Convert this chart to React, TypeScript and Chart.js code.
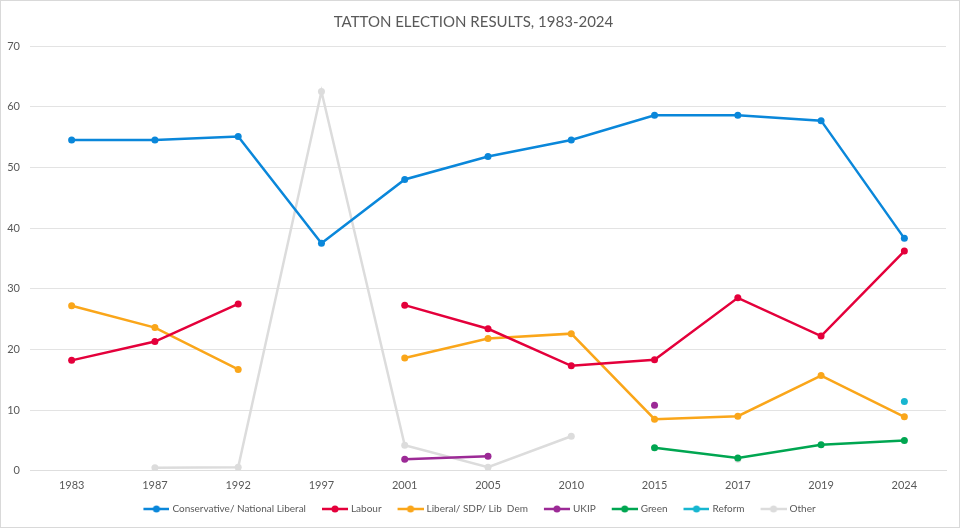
import { useEffect, useRef } from 'react'
import { Chart, ChartConfiguration, registerables } from 'chart.js'

Chart.register(...registerables)

const years = ['1983', '1987', '1992', '1997', '2001', '2005', '2010', '2015', '2017', '2019', '2024']

const conservative = [54.5, 54.5, 55.1, 37.5, 48.0, 51.8, 54.5, 58.6, 58.6, 57.7, 38.3]
const labour = [18.2, 21.3, 27.5, null, 27.3, 23.4, 17.3, 18.3, 28.5, 22.2, 36.2]
const libDem = [27.2, 23.6, 16.7, null, 18.6, 21.8, 22.6, 8.5, 9.0, 15.7, 8.9]
const ukip = [null, null, null, null, 1.9, 2.4, null, 10.8, null, null, null]
const green = [null, null, null, null, null, null, null, 3.8, 2.1, 4.3, 5.0]
const reform = [null, null, null, null, null, null, null, null, null, null, 11.4]
const other = [null, 0.5, 0.6, 62.5, 4.2, 0.6, 5.7, null, 1.9, null, null]

const seriesNames = [
  'Conservative/ National Liberal',
  'Labour',
  'Liberal/ SDP/ Lib  Dem',
  'UKIP',
  'Green',
  'Reform',
  'Other',
]
const seriesColors = ['#0A87DA', '#E4003B', '#FAA61A', '#9C2A96', '#00A651', '#17B6D0', '#DCDCDC']
const seriesData = [conservative, labour, libDem, ukip, green, reform, other]

const textColor = '#595959'
const fontFamily = 'Lato, "Open Sans", sans-serif'

// legend marker: line with a dot, drawn in the right 26px of a wider image
// so it sits close to its text and keeps a gap from the previous item
function legendMarker(color: string) {
  const c = document.createElement('canvas')
  c.width = 40
  c.height = 8
  const g = c.getContext('2d')!
  g.strokeStyle = color
  g.lineWidth = 2.5
  g.beginPath()
  g.moveTo(14, 4)
  g.lineTo(40, 4)
  g.stroke()
  g.fillStyle = color
  g.beginPath()
  g.arc(27, 4, 3.5, 0, Math.PI * 2)
  g.fill()
  return c
}

export default function App() {
  const chartRef = useRef<HTMLCanvasElement>(null)

  useEffect(() => {
    document.body.style.margin = '0'
    if (!chartRef.current) return
    const ctx = chartRef.current.getContext('2d')
    if (!ctx) return

    const markers = seriesColors.map(legendMarker)

    const chart = new Chart(ctx, {
      type: 'line',
      data: {
        labels: years,
        datasets: seriesNames.map((name, i) => ({
          label: name,
          data: seriesData[i],
          borderColor: seriesColors[i],
          backgroundColor: seriesColors[i],
          pointBackgroundColor: seriesColors[i],
          pointBorderColor: seriesColors[i],
          borderWidth: 2.5,
          pointRadius: 3.5,
          pointBorderWidth: 0,
          spanGaps: false,
          tension: 0,
        })),
      },
      options: {
        responsive: true,
        maintainAspectRatio: false,
        animation: false,
        layout: { padding: { left: 0, right: 13, top: 0, bottom: 3 } },
        plugins: {
          title: {
            display: true,
            text: 'TATTON ELECTION RESULTS, 1983-2024',
            color: textColor,
            font: { family: fontFamily, size: 15, weight: 'normal' },
            padding: { top: 12, bottom: 15 },
          },
          legend: {
            position: 'bottom',
            labels: {
              usePointStyle: true,
              pointStyleWidth: 36,
              padding: 4,
              color: textColor,
              font: { family: fontFamily, size: 10 },
              generateLabels: (c) =>
                c.data.datasets.map((ds, i) => ({
                  text: ds.label as string,
                  pointStyle: markers[i],
                  fillStyle: seriesColors[i],
                  strokeStyle: seriesColors[i],
                  lineWidth: 0,
                  hidden: false,
                  datasetIndex: i,
                  fontColor: textColor,
                })),
            },
          },
          tooltip: { enabled: false },
        },
        scales: {
          x: {
            offset: true,
            grid: { display: false, drawTicks: false },
            border: { color: '#DEDEDE', width: 1 },
            ticks: { color: textColor, font: { family: fontFamily, size: 11 }, padding: 8 },
          },
          y: {
            min: 0,
            max: 70,
            ticks: { stepSize: 10, color: textColor, font: { family: fontFamily, size: 11 }, padding: 10 },
            grid: { color: '#E3E3E3', drawTicks: false },
            border: { display: false },
            afterFit: (s: any) => {
              s.width = 29
            },
          },
        },
      },
    } as ChartConfiguration)

    return () => {
      chart.destroy()
    }
  }, [])

  return (
    <div
      style={{
        position: 'fixed',
        left: 0,
        top: 0,
        width: 960,
        height: 528,
        boxSizing: 'border-box',
        border: '1px solid #D9D9D9',
        background: '#fff',
      }}
    >
      <canvas ref={chartRef} />
    </div>
  )
}
